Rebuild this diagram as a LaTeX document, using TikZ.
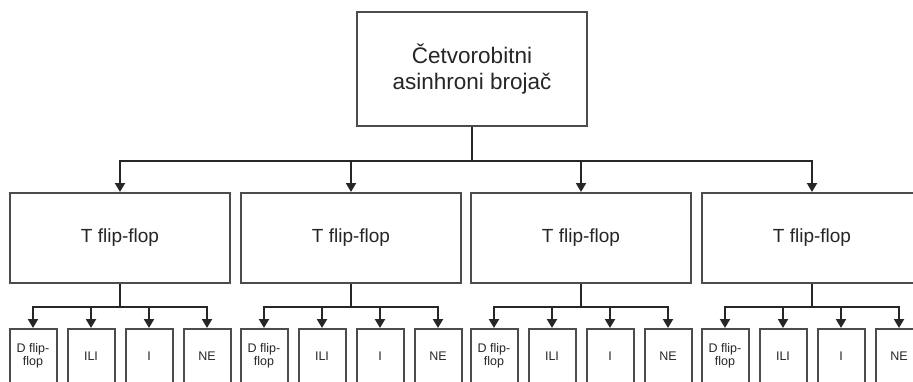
\documentclass[tikz,border=0pt]{standalone}
\usepackage{fontspec}
\setmainfont{Liberation Sans}
\usetikzlibrary{arrows.meta}

\begin{document}
\begin{tikzpicture}[x=1pt,y=-1pt,
    blok/.style={draw=black!70, line width=2pt, fill=white, text=black!85, align=center, inner sep=0pt},
    veza/.style={draw=black!85, line width=2pt, -{Triangle[width=10pt,length=9pt]}}]
    \useasboundingbox (0,0) rectangle (913,381);
    \clip (0,0) rectangle (913,381);

    \node[blok, minimum width=230pt, minimum height=114pt, font=\fontsize{22.5}{26}\selectfont] (brojac) at (472,69) {Četvorobitni\\asinhroni brojač};

    \foreach \x [count=\i] in {120,351,581,812} {
        % T flip-flop i njegovi dijelovi
        \node[blok, minimum width=220pt, minimum height=90pt, font=\fontsize{19}{23}\selectfont] (tff\i) at (\x,238) {T flip-flop};
        \draw[veza] (brojac.south) -- ++(0,34) -| (tff\i.north);
        \foreach \ime/\tekst [count=\k from 0] in {d/{D flip-\\flop}, ili/ILI, i/I, ne/NE} {
            \node[blok, minimum width=47pt, minimum height=54pt, font=\fontsize{12.5}{12.5}\selectfont] (\ime\i) at ({\x-87+58*\k},356) {\tekst};
            \draw[veza] (tff\i.south) -- ++(0,23) -| (\ime\i.north);
        }
    }
\end{tikzpicture}
\end{document}
